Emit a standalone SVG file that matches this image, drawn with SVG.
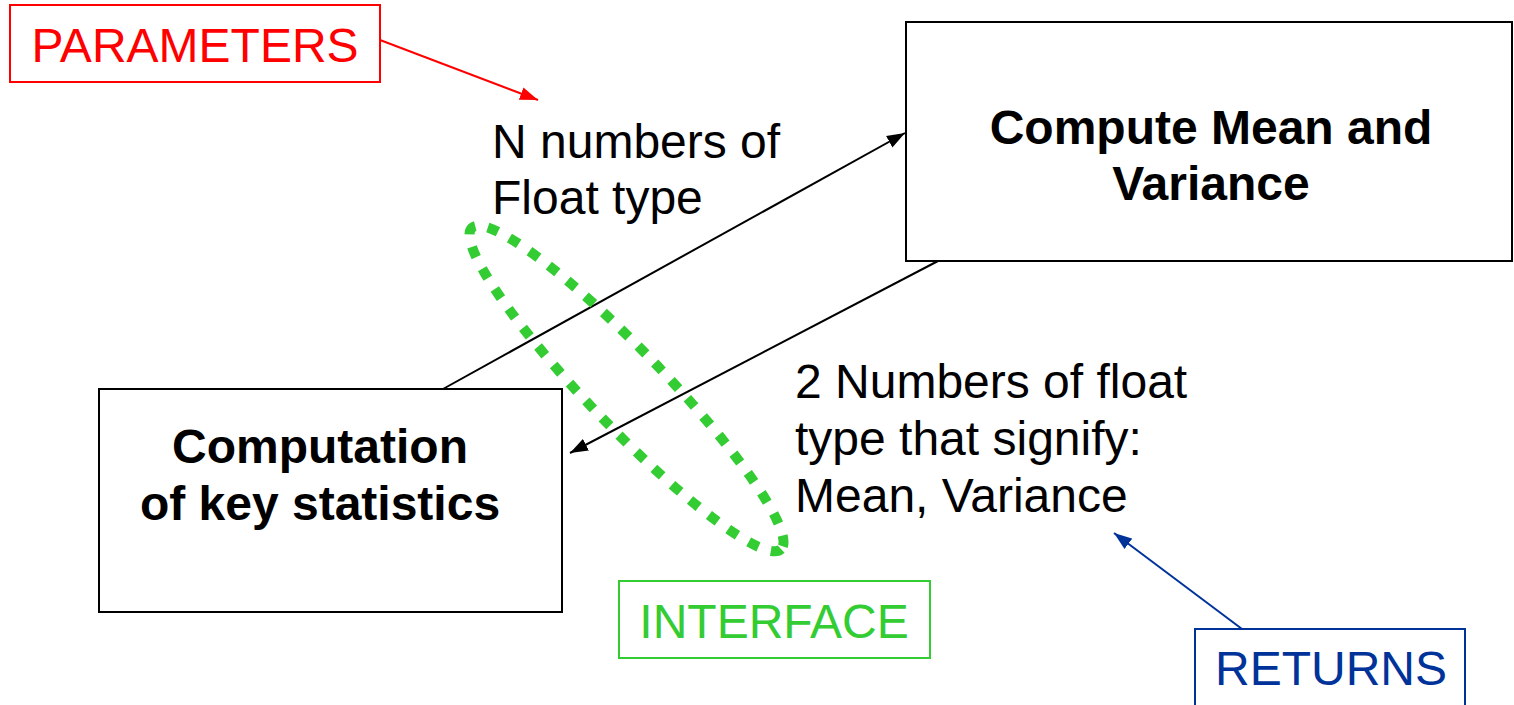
<svg xmlns="http://www.w3.org/2000/svg" width="1514" height="705" viewBox="0 0 1514 705">
<style>
.box{fill:#fff;stroke:#000;stroke-width:2}
.t{font-family:"Liberation Sans",Arial,sans-serif;font-size:48px}
.b{font-weight:bold}
.ln{stroke-width:2;fill:none}
</style>
<defs>
<marker id="ak" markerUnits="userSpaceOnUse" markerWidth="19" markerHeight="14" refX="18" refY="7" orient="auto"><path d="M0,0.5 L18,7 L0,13.5 Z" fill="#000"/></marker>
<marker id="ar" markerUnits="userSpaceOnUse" markerWidth="19" markerHeight="14" refX="18" refY="7" orient="auto"><path d="M0,0.5 L18,7 L0,13.5 Z" fill="#FF0000"/></marker>
<marker id="ab" markerUnits="userSpaceOnUse" markerWidth="19" markerHeight="14" refX="18" refY="7" orient="auto"><path d="M0,0.5 L18,7 L0,13.5 Z" fill="#003399"/></marker>
</defs>
<rect width="1514" height="705" fill="#fff"/>
<g id="node-compute">
<rect class="box" x="906" y="22" width="606" height="239"/>
<text class="t b" x="1211" y="144" text-anchor="middle">Compute Mean and</text>
<text class="t b" x="1211" y="200" text-anchor="middle">Variance</text>
</g>
<g id="node-computation">
<rect class="box" x="99" y="389" width="463" height="223"/>
<text class="t b" x="320" y="463" text-anchor="middle">Computation</text>
<text class="t b" x="320" y="520" text-anchor="middle">of key statistics</text>
</g>
<g id="connectors">
<line class="ln" x1="443" y1="389" x2="905" y2="133" stroke="#000" marker-end="url(#ak)"/>
<line class="ln" x1="938" y1="261" x2="570" y2="453" stroke="#000" marker-end="url(#ak)"/>
<line class="ln" x1="380" y1="40" x2="538" y2="100" stroke="#FF0000" marker-end="url(#ar)"/>
<line class="ln" x1="1242" y1="629" x2="1114" y2="533" stroke="#003399" marker-end="url(#ab)"/>
</g>
<g id="label-params-in">
<text class="t" x="492" y="158">N numbers of</text>
<text class="t" x="492" y="214">Float type</text>
</g>
<g id="label-returns-out">
<text class="t" x="795" y="398">2 Numbers of float</text>
<text class="t" x="795" y="455">type that signify:</text>
<text class="t" x="795" y="512">Mean, Variance</text>
</g>
<g id="interface-ellipse">
<ellipse cx="626.5" cy="388.5" rx="223" ry="38" transform="rotate(46.1 626.5 388.5)" fill="none" stroke="#33CC33" stroke-width="10" stroke-dasharray="11 13"/>
</g>
<g id="node-parameters">
<rect x="10" y="5" width="370" height="77" fill="#fff" stroke="#FF0000" stroke-width="2"/>
<text class="t" x="195" y="62" text-anchor="middle" fill="#FF0000">PARAMETERS</text>
</g>
<g id="node-interface">
<rect x="619" y="581" width="311" height="77" fill="#fff" stroke="#33CC33" stroke-width="2"/>
<text class="t" x="774" y="638" text-anchor="middle" fill="#33CC33">INTERFACE</text>
</g>
<g id="node-returns">
<rect x="1195" y="629" width="270" height="90" fill="#fff" stroke="#003399" stroke-width="2"/>
<text class="t" x="1331" y="685" text-anchor="middle" fill="#003399">RETURNS</text>
</g>
</svg>
